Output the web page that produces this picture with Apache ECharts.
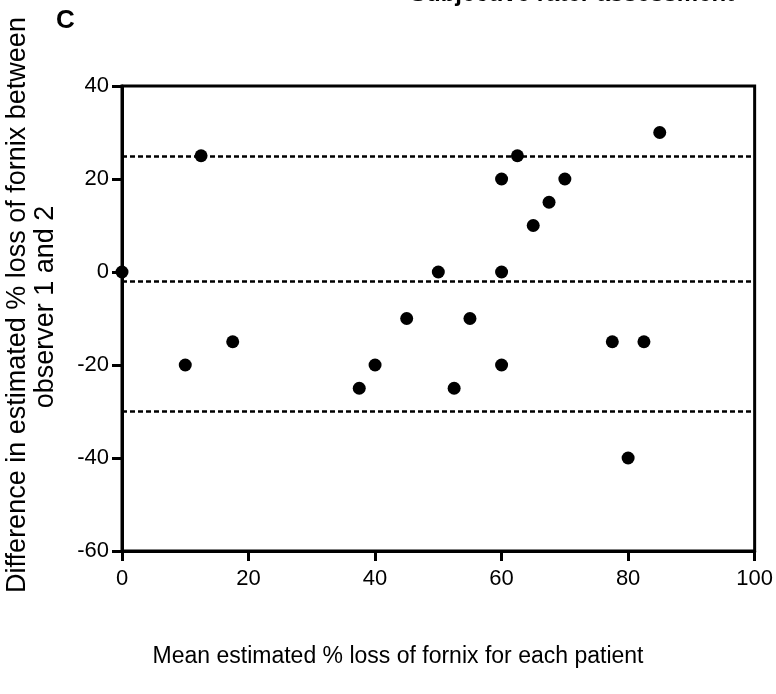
<!DOCTYPE html>
<html>
<head>
<meta charset="utf-8">
<script src="https://cdn.jsdelivr.net/npm/echarts@6/dist/echarts.min.js"></script>
<style>html,body{margin:0;padding:0;background:#fff}#c{width:776px;height:694px}</style>
</head>
<body>
<div id="c"></div>
<script>
// Mean estimated % loss (x) and difference between observers (y)
const meanLoss = [0, 10, 12.5, 17.5, 37.5, 40, 45, 50, 52.5, 55, 60, 60, 60, 62.5, 65, 67.5, 70, 77.5, 80, 82.5, 85];
const diffLoss = [0, -20, 25, -15, -25, -20, -10, 0, -25, -10, 20, 0, -20, 25, 10, 15, 20, -15, -40, -15, 30];
// Bland-Altman reference lines: upper limit, mean bias, lower limit
const refLines = [25, -2, -30];
const xTicks = [0, 20, 40, 60, 80, 100];
const yTicks = [-60, -40, -20, 0, 20, 40];

const font = 'Liberation Sans, Arial, sans-serif';
const chart = echarts.init(document.getElementById('c'), null, {renderer: 'canvas'});
const pts = meanLoss.map((x, i) => [x, diffLoss[i]]);

chart.setOption({
  animation: false,
  backgroundColor: '#fff',
  grid: {left: 122, right: 19, top: 86, bottom: 143, show: true, borderColor: '#000', borderWidth: 3, backgroundColor: 'transparent'},
  xAxis: {
    type: 'value', min: xTicks[0], max: xTicks[xTicks.length - 1], interval: 20,
    axisLine: {show: true, onZero: false, lineStyle: {color: '#000', width: 3}},
    axisTick: {show: true, inside: false, length: 10, lineStyle: {color: '#000', width: 3}},
    axisLabel: {color: '#000', fontSize: 22, fontFamily: font, margin: 17},
    splitLine: {show: false}
  },
  yAxis: {
    type: 'value', min: yTicks[0], max: yTicks[yTicks.length - 1], interval: 20,
    axisLine: {show: true, onZero: false, lineStyle: {color: '#000', width: 3}},
    axisTick: {show: true, inside: false, length: 10, lineStyle: {color: '#000', width: 3}},
    axisLabel: {color: '#000', fontSize: 22, fontFamily: font, margin: 13},
    splitLine: {show: false}
  },
  series: [{
    type: 'scatter',
    data: pts,
    symbol: 'circle',
    symbolSize: 13,
    itemStyle: {color: '#000', opacity: 1},
    z: 5,
    markLine: {
      silent: true,
      symbol: 'none',
      label: {show: false},
      lineStyle: {color: '#000', width: 2.5, type: [5, 3], opacity: 1},
      data: refLines.map(v => ({yAxis: v}))
    }
  }],
  graphic: [
    {type: 'text', left: 56, top: 8, style: {text: 'C', font: 'bold 26px ' + font, fill: '#000'}},
    {type: 'text', x: 410, y: -18, style: {text: 'Subjective rater assessment', font: 'bold 24px ' + font, fill: '#000'}},
    {type: 'text', x: 18, y: 305, rotation: Math.PI / 2,
      style: {text: 'Difference in estimated % loss of fornix between', font: '27px ' + font, fill: '#000', align: 'center', verticalAlign: 'middle'}},
    {type: 'text', x: 46, y: 307, rotation: Math.PI / 2,
      style: {text: 'observer 1 and 2', font: '27px ' + font, fill: '#000', align: 'center', verticalAlign: 'middle'}},
    {type: 'text', x: 398, y: 657,
      style: {text: 'Mean estimated % loss of fornix for each patient', font: '23px ' + font, fill: '#000', align: 'center', verticalAlign: 'middle'}}
  ]
});
</script>
</body>
</html>
